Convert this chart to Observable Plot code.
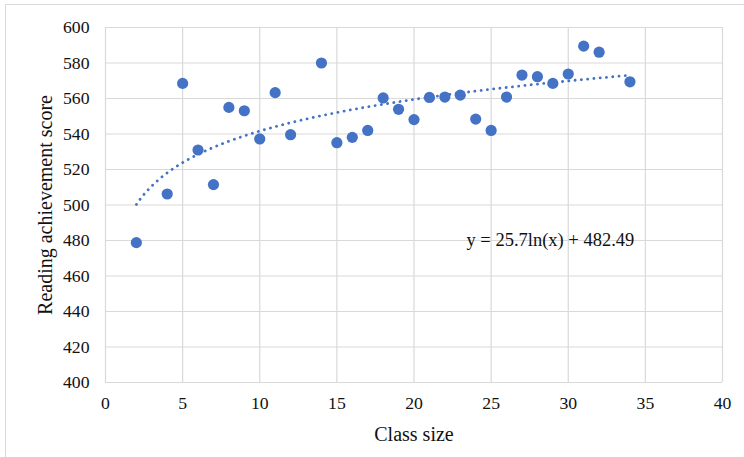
<!DOCTYPE html>
<html>
<head>
<meta charset="utf-8">
<script src="https://cdn.jsdelivr.net/npm/d3@7"></script>
<script src="https://cdn.jsdelivr.net/npm/@observablehq/plot@0.6"></script>
<style>
  html, body { margin: 0; padding: 0; background: #fff; }
  #wrap { position: relative; width: 744px; height: 457px; overflow: hidden; }
  #frame { position: absolute; left: 5px; top: 4px; width: 800px; height: 500px; border: 1px solid #d9d9d9; box-sizing: border-box; }
  #chart { position: absolute; left: 0; top: 0; }
  #chart svg text { font-family: 'Liberation Serif', 'Times New Roman', serif; font-variant-numeric: normal; }
</style>
</head>
<body>
<div id="wrap"><div id="frame"></div><div id="chart"></div></div>
<script>
// Data
const classSize = [2, 4, 5, 6, 7, 8, 9, 10, 11, 12, 14, 15, 16, 17, 18, 19, 20, 21, 22, 23, 24, 25, 26, 27, 28, 29, 30, 31, 32, 34];
const readingScore = [478.8, 506.2, 568.5, 531.0, 511.5, 555.0, 553.1, 537.2, 563.3, 539.6, 580.0, 535.1, 538.1, 542.0, 560.3, 553.9, 548.1, 560.6, 560.8, 561.9, 548.4, 542.0, 560.8, 573.2, 572.3, 568.5, 573.8, 589.5, 586.1, 569.4];
const xTicks = [0, 5, 10, 15, 20, 25, 30, 35, 40];
const yTicks = [400, 420, 440, 460, 480, 500, 520, 540, 560, 580, 600];
const xTitle = "Class size";
const yTitle = "Reading achievement score";
// Logarithmic trendline as printed on the chart
const trendA = 25.7;
const trendB = 482.49;
const trendLabel = "y = 25.7ln(x) + 482.49";
const trendLabelX = 23.4;
const trendLabelY = 480;

const points = classSize.map((x, i) => ({x, y: readingScore[i]}));
const xMin = d3.min(classSize), xMax = d3.max(classSize);
const trend = d3.range(xMin, xMax + 0.001, 0.25).map(x => ({x, y: trendA * Math.log(x) + trendB}));

const blue = "#4472C4";
const grid = "#d9d9d9";
const font = "'Liberation Serif', 'Times New Roman', serif";

const chart = Plot.plot({
  width: 744,
  height: 457,
  marginLeft: 105,
  marginRight: 22,
  marginTop: 27,
  marginBottom: 75,
  style: {fontFamily: font, fontSize: "17.7px", color: "#111", background: "transparent"},
  x: {domain: [0, 40], ticks: xTicks},
  y: {domain: [400, 600], ticks: yTicks},
  marks: [
    Plot.gridX(xTicks, {stroke: grid, strokeOpacity: 1, strokeWidth: 1.2}),
    Plot.gridY(yTicks, {stroke: grid, strokeOpacity: 1, strokeWidth: 1.2}),
    Plot.axisX({ticks: xTicks, tickSize: 0, tickPadding: 14, label: null, fontSize: 17.7, fontFamily: font, fill: "#111"}),
    Plot.axisY({ticks: yTicks, tickSize: 0, tickPadding: 16, label: null, fontSize: 17.7, fontFamily: font, fill: "#111"}),
    Plot.line(trend, {x: "x", y: "y", stroke: blue, strokeWidth: 2.8, strokeDasharray: "0.1 6.2", strokeLinecap: "round", curve: "linear"}),
    Plot.dot(points, {x: "x", y: "y", r: 5.6, fill: blue, stroke: "none"}),
    Plot.text([trendLabel], {x: () => trendLabelX, y: () => trendLabelY, text: d => d, textAnchor: "start", fontSize: 18.5, fontFamily: font, fill: "#111"}),
    Plot.text([xTitle], {frameAnchor: "bottom", text: d => d, dy: 52, lineAnchor: "middle", textAnchor: "middle", fontSize: 20, fontFamily: font, fill: "#111"}),
    Plot.text([yTitle], {frameAnchor: "left", text: d => d, dx: -60, rotate: -90, lineAnchor: "middle", textAnchor: "middle", fontSize: 20, fontFamily: font, fill: "#111"})
  ]
});
document.getElementById("chart").appendChild(chart);
</script>
</body>
</html>
